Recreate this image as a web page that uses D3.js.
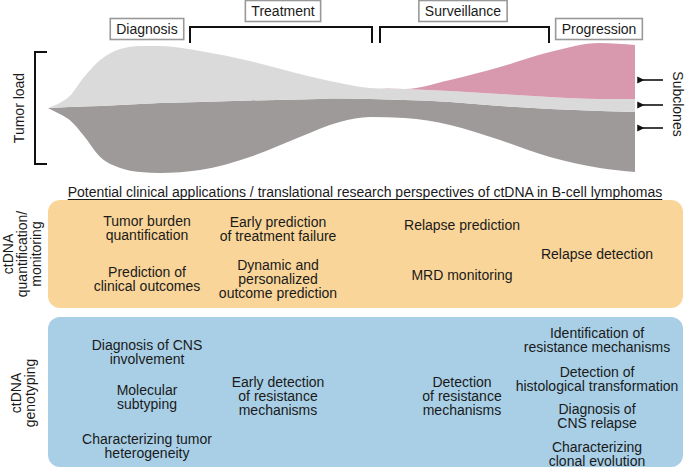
<!DOCTYPE html>
<html><head><meta charset="utf-8">
<script src="https://cdn.jsdelivr.net/npm/d3@7"></script>
<style>
body{margin:0;background:#fff}
svg{display:block}
text{font-family:"Liberation Sans",Arial,Helvetica,sans-serif;fill:#1a1a1a}
</style>
</head><body><svg id="c" width="685" height="471"></svg>
<script>
// ---- data: tumor load over time, stacked subclones (arbitrary load units) ----
const time       = [0, 2, 3.7, 6, 8.9, 12.3, 15.7, 19.1, 25.9, 34.4, 42.9, 49.7, 54.9, 60.8, 68.5, 77, 85.5, 94, 100];
const baseline   = [65, 59, 53, 38, 16, 5, 1, 0, 3, 16, 36, 51, 56, 55, 48, 33, 16, 5, 1];
const cloneMain  = [0, 6.5, 13, 28.5, 51, 63, 68, 70, 68, 56.5, 37.5, 23.5, 18, 18, 23, 34, 48, 57, 60];
const cloneMinor = [0, 4.5, 11, 28.5, 46, 56, 58, 57, 51, 39.5, 25.5, 15.5, 11, 11, 11, 12, 12, 12, 13];
const cloneNew   = [0, 0, 0, 0, 0, 0, 0, 0, 0, 0, 0, 0, 0, 0, 11, 27, 45, 56, 54];

const phases = ["Diagnosis", "Treatment", "Surveillance", "Progression"];
const title = "Potential clinical applications / translational research perspectives of ctDNA in B-cell lymphomas";
const rowLabels = [["ctDNA", "quantification/", "monitoring"], ["ctDNA", "genotyping"]];
const monitoringItems = [
  {col: 0, lines: ["Tumor burden", "quantification"]},
  {col: 0, lines: ["Prediction of", "clinical outcomes"]},
  {col: 1, lines: ["Early prediction", "of treatment failure"]},
  {col: 1, lines: ["Dynamic and", "personalized", "outcome prediction"]},
  {col: 2, lines: ["Relapse prediction"]},
  {col: 2, lines: ["MRD monitoring"]},
  {col: 3, lines: ["Relapse detection"]}
];
const genotypingItems = [
  {col: 0, lines: ["Diagnosis of CNS", "involvement"]},
  {col: 0, lines: ["Molecular", "subtyping"]},
  {col: 0, lines: ["Characterizing tumor", "heterogeneity"]},
  {col: 1, lines: ["Early detection", "of resistance", "mechanisms"]},
  {col: 2, lines: ["Detection", "of resistance", "mechanisms"]},
  {col: 3, lines: ["Identification of", "resistance mechanisms"]},
  {col: 3, lines: ["Detection of", "histological transformation"]},
  {col: 3, lines: ["Diagnosis of", "CNS relapse"]},
  {col: 3, lines: ["Characterizing", "clonal evolution"]}
];

// ---- layout ----
const svg = d3.select("#c");
const FS = 14, LH = 14;
const colX = [147, 278, 462, 597];
const monY = [228, 279, 229, 279, 225, 275, 254];
const genY = [352, 397, 446, 396, 396, 340, 379, 416, 454];

const x = d3.scaleLinear().domain([0, 100]).range([48, 635]);
const y = d3.scaleLinear().domain([0, 130]).range([173, 43]);

// stacked layers
const layers = [];
let lo = baseline.slice();
[[cloneMain, "#9d9a99"], [cloneMinor, "#dadada"], [cloneNew, "#d898ad"]].forEach(([vals, col]) => {
  const hi = lo.map((v, i) => v + vals[i]);
  layers.push({pts: time.map((t, i) => ({t, lo: lo[i], hi: hi[i]})), col});
  lo = hi;
});
const area = d3.area().x(d => x(d.t)).y0(d => y(d.lo)).y1(d => y(d.hi)).curve(d3.curveMonotoneX);
svg.append("g").selectAll("path").data(layers).join("path")
  .attr("d", d => area(d.pts)).attr("fill", d => d.col);

// tumor load bracket
svg.append("path").attr("d", "M47,52H35V164H47").attr("fill", "none").attr("stroke", "#111").attr("stroke-width", 2);
svg.append("text").attr("transform", "translate(24,108) rotate(-90)").attr("text-anchor", "middle")
  .attr("font-size", FS).text("Tumor load");

// phase brackets
svg.append("path").attr("d", "M190,43V27H372V43").attr("fill", "none").attr("stroke", "#111").attr("stroke-width", 2);
svg.append("path").attr("d", "M380,43V27H549V43").attr("fill", "none").attr("stroke", "#111").attr("stroke-width", 2);

// phase label boxes
const phasePos = [[147, 29], [283, 11], [463, 11], [599, 29]];
phases.forEach((p, i) => {
  const g = svg.append("g");
  const t = g.append("text").attr("x", phasePos[i][0]).attr("y", phasePos[i][1])
    .attr("text-anchor", "middle").attr("dominant-baseline", "central").attr("font-size", FS).text(p);
  const w = t.node().getComputedTextLength();
  g.insert("rect", "text").attr("x", phasePos[i][0] - w / 2 - 6).attr("y", phasePos[i][1] - 10.5)
    .attr("width", w + 12).attr("height", 21).attr("fill", "#fff").attr("stroke", "#999").attr("stroke-width", 1.6);
});

// subclone arrows
const defs = svg.append("defs");
defs.append("marker").attr("id", "ah").attr("viewBox", "0 0 10 10").attr("refX", 2).attr("refY", 5)
  .attr("markerWidth", 4.5).attr("markerHeight", 4.5).attr("orient", "auto")
  .append("path").attr("d", "M0,5L10,0L10,10Z").attr("fill", "#111");
[80, 105, 128].forEach(yy => {
  svg.append("line").attr("x1", 663).attr("y1", yy).attr("x2", 643).attr("y2", yy)
    .attr("stroke", "#111").attr("stroke-width", 1.6).attr("marker-end", "url(#ah)");
});
svg.append("text").attr("transform", "translate(673,104) rotate(90)").attr("text-anchor", "middle")
  .attr("font-size", FS).text("Subclones");

// title
const tt = svg.append("text").attr("x", 365).attr("y", 192).attr("text-anchor", "middle")
  .attr("dominant-baseline", "central").attr("font-size", FS).text(title);
const tw = tt.node().getComputedTextLength();
svg.append("line").attr("x1", 365 - tw / 2).attr("x2", 365 + tw / 2).attr("y1", 199.5).attr("y2", 199.5)
  .attr("stroke", "#1a1a1a").attr("stroke-width", 1);

// panels
svg.append("rect").attr("x", 48).attr("y", 200).attr("width", 635).attr("height", 108).attr("rx", 12).attr("fill", "#f9d599");
svg.append("rect").attr("x", 48).attr("y", 317).attr("width", 635).attr("height", 150).attr("rx", 12).attr("fill", "#a8cfe6");

function block(cx, cy, lines, rotate) {
  const n = lines.length;
  const t = svg.append("text").attr("text-anchor", "middle").attr("font-size", FS);
  if (rotate) t.attr("transform", `translate(${cx},${cy}) rotate(-90)`);
  else t.attr("transform", `translate(${cx},${cy})`);
  lines.forEach((l, i) => {
    t.append("tspan").attr("x", 0).attr("y", (i - (n - 1) / 2) * LH).attr("dominant-baseline", "central").text(l);
  });
}
block(22, 254, rowLabels[0], true);
block(23, 393, rowLabels[1], true);
monitoringItems.forEach((d, i) => block(colX[d.col], monY[i], d.lines));
genotypingItems.forEach((d, i) => block(colX[d.col], genY[i], d.lines));
</script>
</body></html>
